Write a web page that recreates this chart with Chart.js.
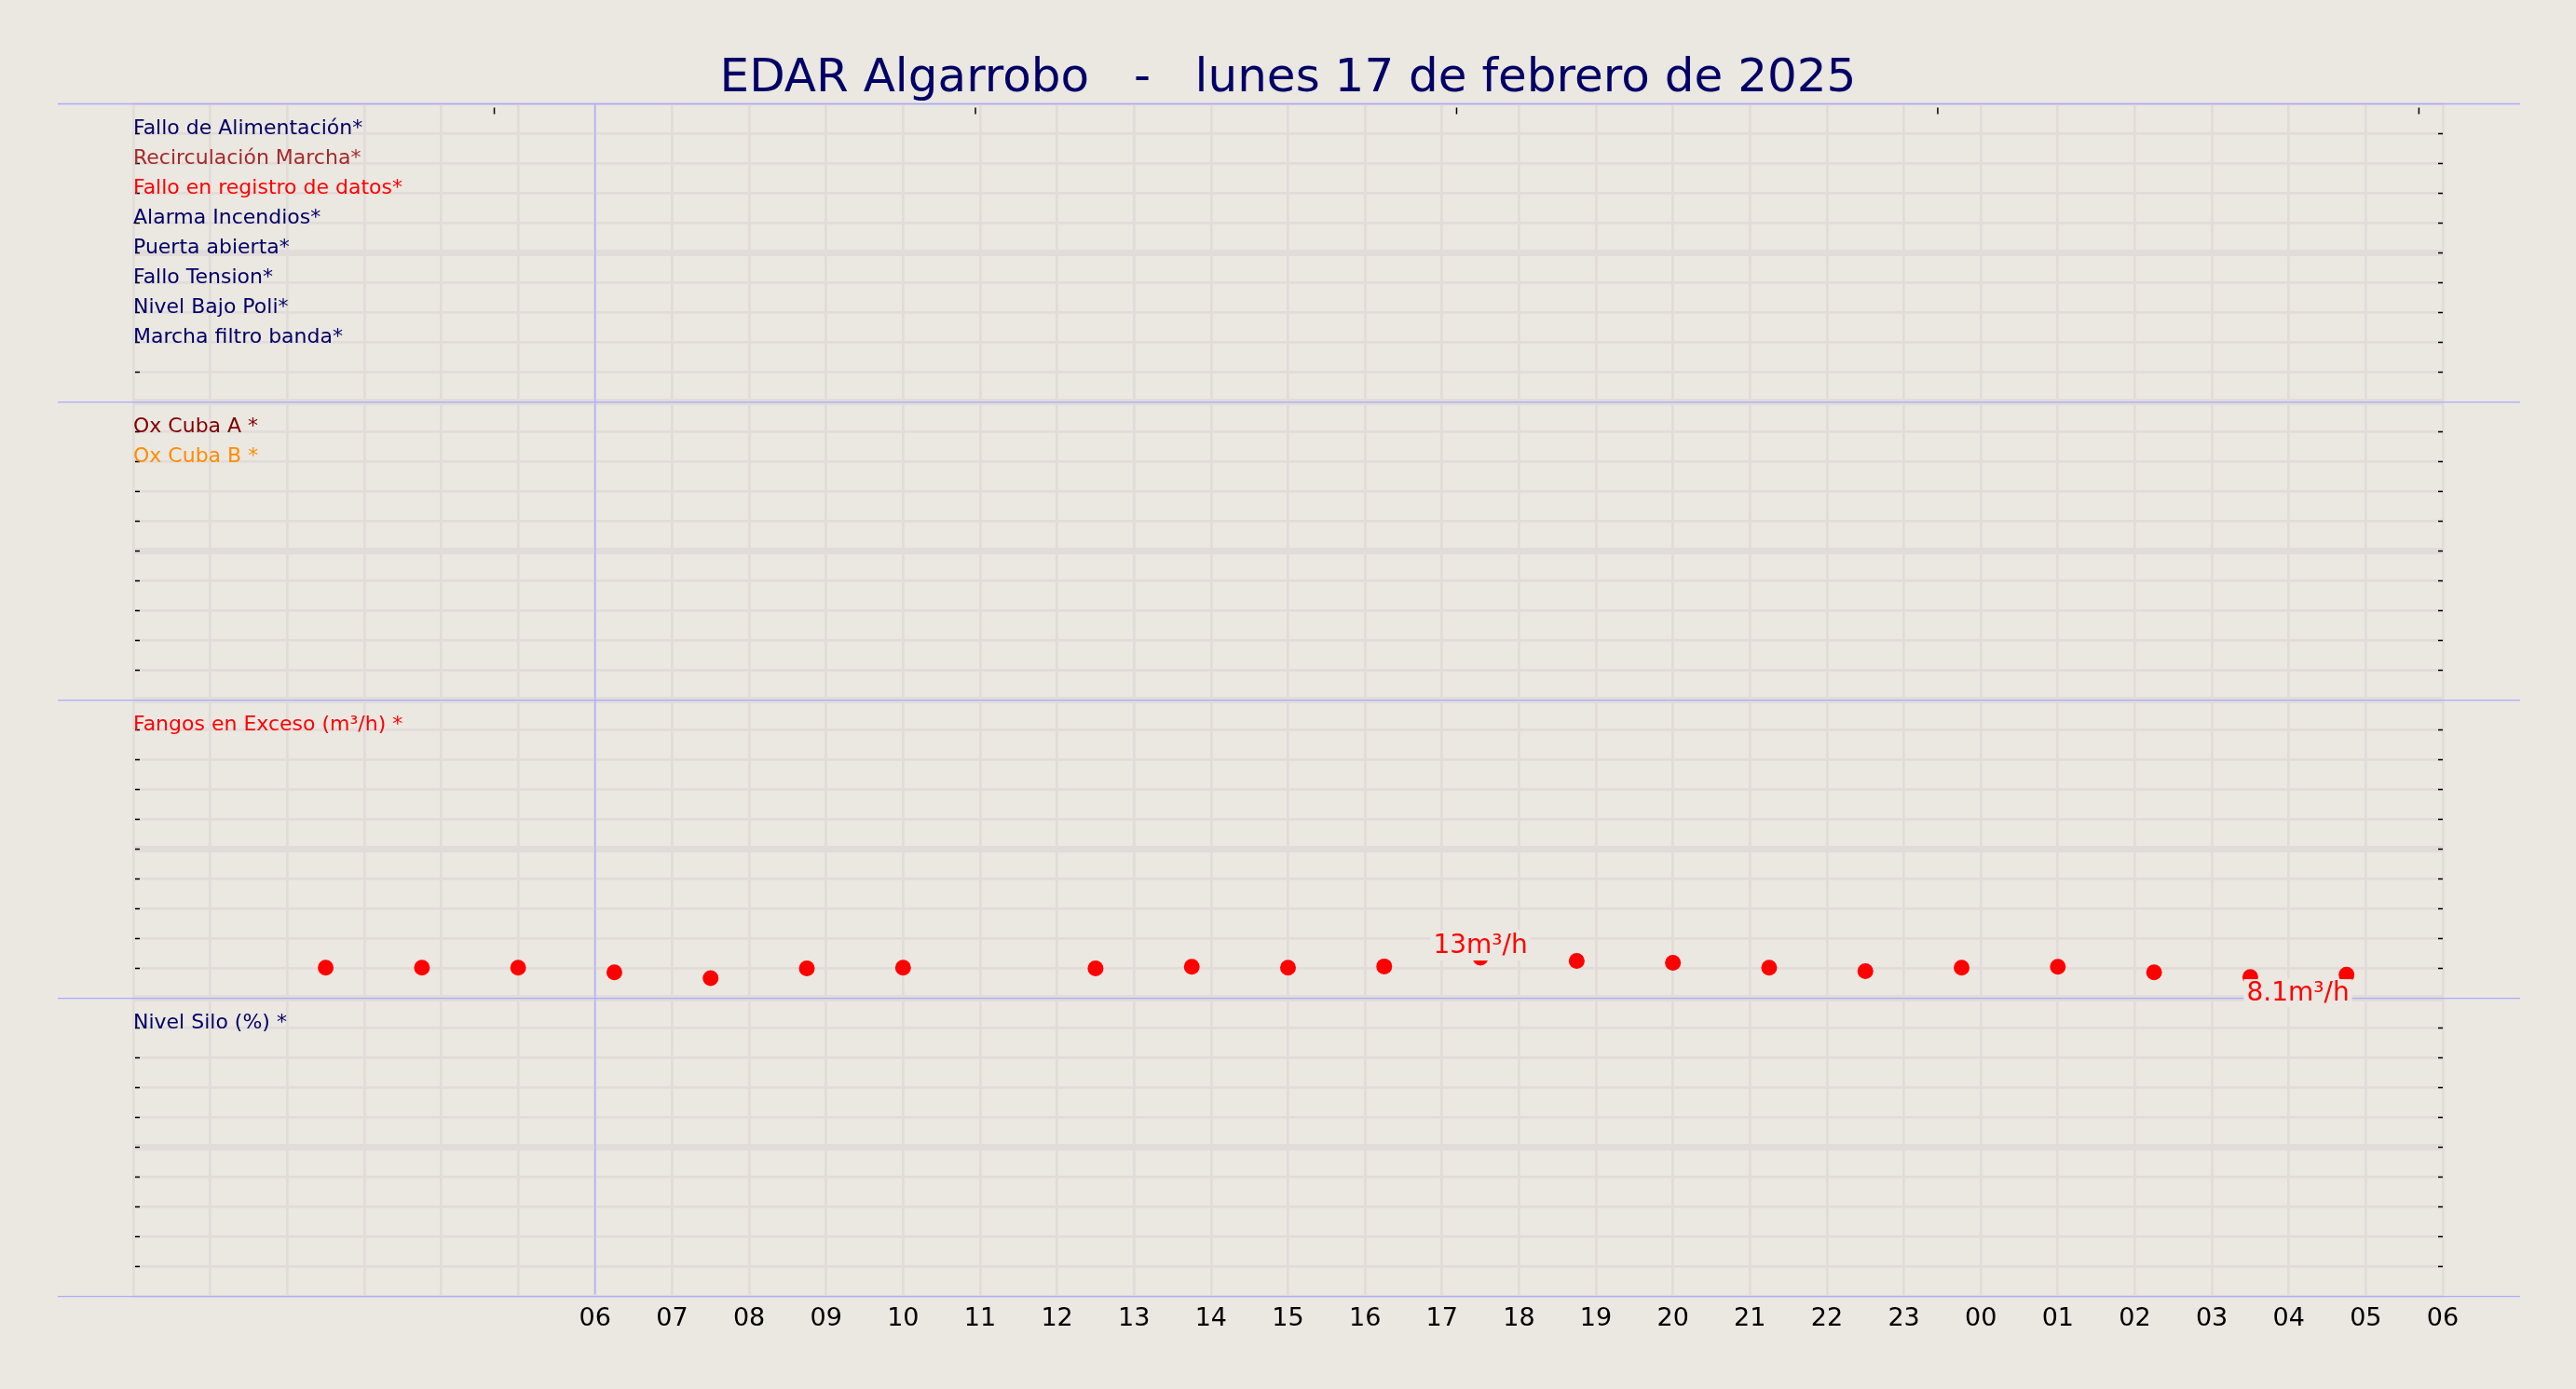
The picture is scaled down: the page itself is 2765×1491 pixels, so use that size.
<!DOCTYPE html>
<html>
<head>
<meta charset="utf-8">
<script src="https://cdn.jsdelivr.net/npm/chart.js@4.4.0/dist/chart.umd.min.js"></script>
<style>
  html, body { margin: 0; padding: 0; background: #ebe7e1; overflow: hidden; }
  #wrap { width: 2765px; height: 1491px; }
</style>
</head>
<body>
<div id="wrap"><canvas id="edar"></canvas></div>
<script>
// ---- data ------------------------------------------------------------
const chartTitle = 'EDAR Algarrobo   -   lunes 17 de febrero de 2025';

// hours counted from 00:00 of 17-02-2025
const fangosHours = [2.5, 3.75, 5, 6.25, 7.5, 8.75, 10, 11.25, 12.5, 13.75, 15,
                     16.25, 17.5, 18.75, 20, 21.25, 22.5, 23.75, 25, 26.25, 27.5, 28.75];
// Fangos en Exceso (m3/h), 11:15 missing
const fangosValues = [10.5, 10.5, 10.5, 9.3, 7.8, 10.3, 10.5, null, 10.3, 10.7, 10.5,
                      10.8, 13, 12.2, 11.7, 10.5, 9.6, 10.5, 10.7, 9.3, 8.1, 8.7];
const fangosMaxIdx = 12;
const fangosMinIdx = 20;

const xTickLabels = ['06', '07', '08', '09', '10', '11', '12', '13', '14', '15', '16', '17', '18',
                     '19', '20', '21', '22', '23', '00', '01', '02', '03', '04', '05', '06'];
const topTickHours = [4.69, 10.94, 17.19, 23.44, 29.69];

const alarmLabels = ['Fallo de Alimentación*', 'Recirculación Marcha*', 'Fallo en registro de datos*',
                     'Alarma Incendios*', 'Puerta abierta*', 'Fallo Tension*', 'Nivel Bajo Poli*',
                     'Marcha filtro banda*'];
const alarmColors = ['#000066', '#a52a2a', '#ff0000', '#000066', '#000066', '#000066', '#000066', '#000066'];
const oxLabels = ['Ox Cuba A *', 'Ox Cuba B *'];
const oxColors = ['#800000', '#ff8c00'];
const fangosLabels = ['Fangos en Exceso (m³/h) *'];
const fangosColors = ['#ff0000'];
const siloLabels = ['Nivel Silo (%) *'];
const siloColors = ['#000066'];

// ---- style -----------------------------------------------------------
const BG = '#ebe7e1';
const GRID = '#e1dcd9';
const BLUE = '#aaaaff';
const FONT = '"DejaVu Sans", sans-serif';

const panelIds = ['p1', 'p2', 'p3', 'p4'];
const panelTexts = [[alarmLabels, alarmColors], [oxLabels, oxColors],
                    [fangosLabels, fangosColors], [siloLabels, siloColors]];

function panelAxis(min, max, first, last) {
    return {
        type: 'linear',
        position: 'left',
        stack: 'panels',
        stackWeight: 1,
        min: min,
        max: max,
        afterBuildTicks: axis => {
            axis.ticks = [];
            for (let k = 0; k <= 10; k++) axis.ticks.push({ value: min + k * (max - min) / 10 });
        },
        ticks: { display: false },
        border: { display: false },
        grid: {
            drawTicks: false,
            color: GRID,
            lineWidth: ctx => {
                if (ctx.index === 5) return 7;
                if (ctx.index === 10) return first ? 3 : 7;
                if (ctx.index === 0) return last ? 3 : 7;
                return 2.7;
            }
        }
    };
}

const decor = {
    id: 'edarDecor',
    beforeDraw(chart) {
        const c = chart.ctx;
        c.save();
        c.fillStyle = BG;
        c.fillRect(0, 0, chart.width, chart.height);
        c.restore();
    },
    beforeDatasetsDraw(chart) {
        const c = chart.ctx;
        const area = chart.chartArea;
        const xs = chart.scales.x;
        c.save();

        // blue line at 06
        const x6 = xs.getPixelForValue(6);
        c.strokeStyle = BLUE;
        c.lineWidth = 1.3;
        c.beginPath();
        c.moveTo(x6, area.top);
        c.lineTo(x6, area.bottom - 2);
        c.stroke();

        // panel separators
        const edges = [chart.scales.p1.top].concat(panelIds.map(id => chart.scales[id].bottom));
        edges.forEach(y => {
            c.beginPath();
            c.moveTo(area.left - 81, y);
            c.lineTo(area.right + 83, y);
            c.stroke();
        });

        // small tick dashes
        c.strokeStyle = '#000';
        c.lineWidth = 1.5;
        panelIds.forEach(id => {
            const s = chart.scales[id];
            for (let k = 1; k < 10; k++) {
                const y = s.top + k * s.height / 10;
                c.beginPath();
                c.moveTo(area.left + 2, y);
                c.lineTo(area.left + 7, y);
                c.moveTo(area.right - 5, y);
                c.lineTo(area.right, y);
                c.stroke();
            }
        });
        topTickHours.forEach(h => {
            const x = xs.getPixelForValue(h);
            c.beginPath();
            c.moveTo(x, area.top + 4);
            c.lineTo(x, area.top + 11);
            c.stroke();
        });

        // series names
        c.font = '22px ' + FONT;
        c.textAlign = 'left';
        c.textBaseline = 'alphabetic';
        panelTexts.forEach((pt, p) => {
            const s = chart.scales[panelIds[p]];
            pt[0].forEach((t, k) => {
                c.fillStyle = pt[1][k];
                c.fillText(t, area.left, s.top + (k + 1) * s.height / 10);
            });
        });
        c.restore();
    },
    afterDatasetsDraw(chart) {
        const c = chart.ctx;
        const pts = chart.getDatasetMeta(0).data;
        c.save();
        c.font = '28px ' + FONT;
        c.textBaseline = 'alphabetic';
        c.textAlign = 'left';

        const hi = pts[fangosMaxIdx];
        const hiText = fangosValues[fangosMaxIdx] + 'm³/h';
        const hw = c.measureText(hiText).width;
        const hx = hi.x - hw / 2;
        const hb = hi.y - 5.5;
        c.fillStyle = BG;
        c.fillRect(hx - 3, hb - 24, hw + 6, 24 + 8.5);
        c.fillStyle = '#ff0000';
        c.fillText(hiText, hx, hb);

        const lo = pts[fangosMinIdx];
        const loText = fangosValues[fangosMinIdx] + 'm³/h';
        const lw = c.measureText(loText).width;
        const lx = lo.x - 4;
        const lb = lo.y + 25;
        c.fillStyle = BG;
        c.fillRect(lx - 3, lo.y + 2.3, lw + 6, 30);
        c.fillStyle = '#ff0000';
        c.fillText(loText, lx, lb);
        c.restore();
    }
};

new Chart(document.getElementById('edar'), {
    type: 'scatter',
    data: {
        datasets: [{
            label: 'Fangos en Exceso (m³/h)',
            data: fangosHours.map((h, i) => ({ x: h, y: fangosValues[i] })),
            yAxisID: 'p3',
            backgroundColor: '#ff0000',
            borderWidth: 0,
            pointRadius: 8.5,
            pointHoverRadius: 8.5
        }]
    },
    options: {
        responsive: true,
        maintainAspectRatio: false,
        animation: false,
        events: [],
        layout: { padding: { left: 143, right: 143, top: 0, bottom: 51 } },
        plugins: {
            legend: { display: false },
            tooltip: { enabled: false },
            title: {
                display: true,
                text: chartTitle,
                color: '#000066',
                font: { family: FONT, size: 50, weight: 'normal', lineHeight: 1.06 },
                padding: { top: 58.5, bottom: 0 }
            }
        },
        scales: {
            x: {
                type: 'linear',
                min: 0,
                max: 30,
                ticks: {
                    stepSize: 1,
                    autoSkip: false,
                    maxRotation: 0,
                    padding: 8,
                    color: '#000',
                    font: { family: FONT, size: 27 },
                    callback: v => (v >= 6 ? xTickLabels[v - 6] : '')
                },
                border: { display: false },
                grid: { drawTicks: false, color: GRID, lineWidth: 2.7 }
            },
            // left-stacked axes are laid out last-defined on top
            p4: panelAxis(0, 10, false, true),
            p3: panelAxis(2.7, 78.5, false, false),
            p2: panelAxis(0, 10, false, false),
            p1: panelAxis(0, 10, true, false)
        }
    },
    plugins: [decor]
});
</script>
</body>
</html>
